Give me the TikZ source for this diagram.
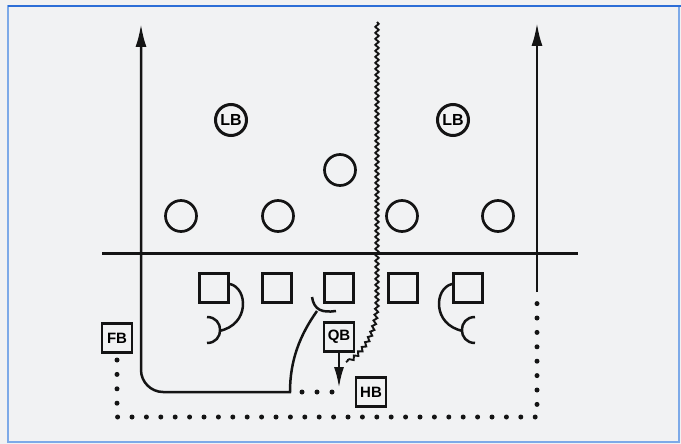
\documentclass[tikz,border=0pt]{standalone}
\usepackage{fontspec}
\setmainfont{Liberation Sans}
\usetikzlibrary{arrows.meta,decorations.pathmorphing,calc}
\definecolor{bg}{RGB}{241,242,243}
\definecolor{frameblue}{RGB}{45,110,215}
\definecolor{framelight}{RGB}{125,170,232}
\definecolor{ink}{RGB}{20,20,20}
\begin{document}
\begin{tikzpicture}[x=1pt,y=-1pt,
  defcircle/.style={draw=ink,circle,line width=2.7pt,minimum size=31pt,inner sep=0pt},
  lbcircle/.style={draw=ink,circle,line width=3pt,minimum size=31pt,inner sep=0pt,font=\bfseries\fontsize{16}{16}\selectfont},
  offsq/.style={draw=ink,rectangle,line width=2.8pt,minimum size=29pt,inner sep=0pt},
  backbox/.style={draw=ink,rectangle,line width=2.6pt,minimum width=30pt,minimum height=29pt,inner sep=0pt,font=\bfseries\fontsize{15}{15}\selectfont},
  route/.style={draw=ink,line width=2.5pt},
  dotline/.style={draw=ink,line width=5pt,line cap=round,dash pattern=on 0pt off 14.4pt},
  wavy/.style={draw=ink,line width=1.9pt,decorate,decoration={snake,amplitude=1.7pt,segment length=6pt}},
  tip/.style={-{Latex[length=23pt,width=11pt]}}
]
\useasboundingbox (0,0) rectangle (681,444);
\fill[bg] (0,0) rectangle (681,444);
\draw[framelight,line width=1.5pt] (8,6) rectangle (679,442);
\draw[frameblue,line width=2.5pt] (8,6) -- (681,6);

% defense
\node[lbcircle] (lb1) at (231,120) {LB};
\node[lbcircle] (lb2) at (453,120) {LB};
\node[defcircle] (dm) at (340,170) {};
\node[defcircle] (d1) at (181,216) {};
\node[defcircle] (d2) at (278,216) {};
\node[defcircle] (d3) at (402,216) {};
\node[defcircle] (d4) at (498,216) {};

% line of scrimmage
\coordinate (losl) at (102,253);
\coordinate (losr) at (578,253);
\draw[ink,line width=3pt] (losl) -- (losr);

% offense
\node[offsq] (o1) at (214,288) {};
\node[offsq] (o2) at (277,288) {};
\node[offsq] (o3) at (339,288) {};
\node[offsq] (o4) at (403,288) {};
\node[offsq] (o5) at (468,288) {};
\node[backbox] (FB) at (117,338) {FB};
\node[backbox] (QB) at (339,337) {QB};
\node[backbox] (HB) at (371,392) {HB};

% blocks
\coordinate (c1) at (219,331);
\draw[route] ([yshift=4pt]o1.east) .. controls (248,288) and (250,325) .. (c1);
\draw[route] (207,317) .. controls (224.5,317) and (224.5,343) .. (207,343);
\coordinate (c5) at (463,331);
\draw[route] ([yshift=4pt]o5.west) .. controls (434,288) and (432,325) .. (c5);
\draw[route] (475,317) .. controls (457.5,317) and (457.5,343) .. (475,343);
\draw[route] (312,297) .. controls (314,310) and (322,313) .. (336,311);

% left route from center
\coordinate (c3) at (317,311);
\coordinate (turn) at (290,392);
\coordinate (ltop) at (141,24);
\draw[route,tip] (c3) .. controls (300,335) and (290,360) .. (turn)
  -- (163,392) .. controls (151,392) and (141,382) .. (141,370) -- (ltop);
\draw[dotline,dash pattern=on 0pt off 15pt] (302,392) -- (333,392);

% right route
\coordinate (rbot) at (537,292);
\coordinate (rtop) at (537,23);
\draw[route,tip] (rbot) -- (rtop);

% FB dotted path
\coordinate (fbs) at (117,360);
\coordinate (fbc1) at (117,417);
\coordinate (fbc2) at (537,417);
\coordinate (fbe) at (537,302);
\draw[dotline] (fbs) -- (fbc1) -- (fbc2) -- (fbe);

% QB handoff
\coordinate (qbtip) at (339,388);
\draw[route,-{Latex[length=21pt,width=10pt]}] (QB.south) -- (qbtip);

% wavy path
\coordinate (wtop) at (377,22);
\coordinate (wend) at (346,362);
\draw[wavy] (wtop) -- (377,300) .. controls (377,330) and (365,350) .. (wend);
\end{tikzpicture}
\end{document}
